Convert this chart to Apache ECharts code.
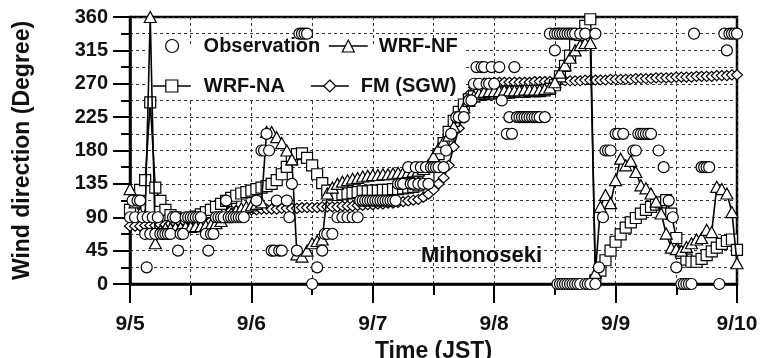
<!DOCTYPE html>
<html>
<head>
<meta charset="utf-8">
<script src="https://cdn.jsdelivr.net/npm/echarts/dist/echarts.min.js"></script>
<style>
  html, body { margin: 0; padding: 0; background: #fff; }
  #chart { width: 762px; height: 358px; }
</style>
</head>
<body>
<div id="chart"></div>
<script>
// hours since 9/5 00 JST, hourly model output
const hours = Array.from({ length: 121 }, (_, i) => i);
const dayLabels = ['9/5', '9/6', '9/7', '9/8', '9/9', '9/10'];

// WRF-NF (triangles)
const wrfNf = [
  128, 110, 95, 92, 360, 55, 72, 75, 75, 76, 76, 77, 77, 78, 78, 79, 80, 82, 85, 90, 95, 99, 102, 104,
  106, 108, 110, 205, 205, 198, 190, 180, 168, 40, 37, 45, 55, 58, 60, 122, 130, 135, 138, 140, 142, 143, 145, 146,
  147, 147, 148, 148, 149, 150, 150, 151, 152, 153, 155, 160, 172, 183, 192, 200, 212, 225, 238, 247, 253, 257, 259, 260,
  260, 260, 261, 261, 261, 261, 262, 262, 262, 262, 263, 265, 272, 285, 295, 305, 315, 322, 325, 325, 15, 104, 120, 109,
  140, 169, 160, 166, 151, 133, 129, 122, 111, 95, 68, 49, 47, 45, 50, 55, 60, 62, 73, 70, 131, 128, 122, 97,
  28
];

// WRF-NA (squares)
const wrfNa = [
  100, 118, 127, 140, 245, 130, 112, 100, 93, 90, 88, 88, 89, 91, 94, 97, 100, 104, 108, 112, 116, 119, 122, 124,
  126, 128, 130, 132, 135, 140, 148, 158, 168, 175, 176, 170, 160, 148, 136, 126, 121, 120, 121, 122, 123, 124, 125, 125,
  126, 126, 127, 127, 128, 128, 129, 130, 131, 133, 137, 145, 160, 175, 190, 205, 220, 232, 242, 249, 253, 255, 256, 257,
  257, 258, 258, 258, 259, 259, 259, 260, 260, 260, 261, 263, 268, 280, 294, 308, 322, 336, 348, 357, 5, 18, 32, 45,
  57, 67, 76, 83, 89, 95, 100, 104, 107, 110, 113, 95, 62, 42, 33, 30, 30, 34, 39, 44, 49, 54, 58, 60,
  46
];

// FM (SGW) (diamonds)
const fmSgw = [
  78, 78, 78, 79, 79, 79, 80, 80, 81, 82, 83, 84, 86, 88, 90, 92, 94, 96, 97, 98, 99, 99, 100, 100,
  100, 100, 101, 101, 101, 101, 102, 102, 102, 102, 103, 103, 103, 103, 104, 104, 104, 104, 105, 105, 105, 106, 106, 107,
  107, 108, 108, 109, 109, 110, 111, 112, 113, 114, 117, 121, 127, 135, 143, 160, 185, 210, 235, 255, 265, 270, 271, 271,
  272, 272, 272, 272, 272, 272, 272, 272, 273, 273, 273, 273, 273, 274, 274, 274, 274, 274, 275, 275, 275, 275, 275, 276,
  276, 276, 276, 276, 277, 277, 277, 277, 278, 278, 278, 278, 279, 279, 279, 279, 280, 280, 280, 280, 281, 281, 281, 282,
  282
];

// Observation [hour, degree]
const observation = [
  [0, 90], [0.5, 112.5], [1, 90], [1.5, 112.5], [2, 112.5], [2.5, 90], [3, 67.5], [3.3, 22.5], [3.5, 90], [4, 67.5],
  [4.5, 90], [5, 67.5], [5.5, 90], [6, 67.5], [6.5, 67.5], [7, 67.5], [7.5, 67.5], [8, 67.5], [8.5, 90], [9, 90],
  [9.5, 45], [10, 67.5], [10.5, 67.5], [11, 90], [11.5, 90], [12, 90], [12.5, 90], [13, 90], [13.5, 90], [14, 90],
  [15, 67.5], [15.5, 45], [16, 67.5], [16.5, 67.5], [17, 90], [17.5, 90], [18, 90], [18.5, 90], [19, 112.5], [19.5, 90],
  [20, 90], [20.5, 90], [21, 90], [21.5, 90], [22, 90], [22.5, 90], [25, 112.5], [26, 180], [26.5, 180], [27, 202.5],
  [27.5, 180], [28, 45], [28.5, 45], [29, 112.5], [29.5, 45], [30, 45], [31, 112.5], [31.5, 90], [32, 135], [33, 45],
  [33.5, 337.5], [34, 337.5], [34.5, 337.5], [35, 337.5], [36, 0], [37, 22.5], [38, 45], [38.5, 67.5], [39, 67.5], [40, 67.5],
  [41, 90], [42, 90], [43, 90], [44, 90], [45, 90], [45.5, 112.5], [46, 112.5], [46.5, 112.5], [47, 112.5], [47.5, 112.5],
  [48, 112.5], [48.5, 112.5], [49, 112.5], [49.5, 112.5], [50, 112.5], [50.5, 112.5], [51, 112.5], [51.5, 112.5], [52, 112.5], [52.5, 112.5],
  [53, 135], [53.5, 135], [54, 135], [55, 157.5], [55.5, 135], [56, 135], [56.5, 157.5], [57, 135], [57.5, 157.5], [58, 135],
  [58.5, 157.5], [59, 135], [59.5, 157.5], [60, 157.5], [60.5, 157.5], [61, 157.5], [62, 157.5], [62.5, 180], [63.5, 202.5], [64.5, 225],
  [65, 225], [66, 225], [67, 247.5], [67.5, 247.5], [68, 270], [68.5, 292.5], [69, 270], [69.5, 292.5], [70, 292.5], [70.5, 270],
  [71, 270], [71.5, 292.5], [72, 270], [73, 292.5], [73.5, 247.5], [74.5, 202.5], [75, 225], [75.5, 202.5], [76, 292.5], [76.5, 225],
  [77, 225], [77.5, 225], [78, 225], [78.5, 225], [79, 225], [79.5, 225], [80, 225], [80.5, 225], [81, 225], [82, 225],
  [83, 337.5], [84, 315], [84, 337.5], [84.5, 337.5], [85, 337.5], [85.5, 337.5], [86, 337.5], [86.5, 337.5], [87, 337.5], [87.5, 337.5],
  [88, 337.5], [89, 337.5], [90, 337.5], [92, 337.5],
  [84.5, 0], [85, 0], [85.5, 0], [86, 0], [86.5, 0], [87, 0], [87.5, 0], [88, 0], [88.5, 0], [89, 0], [90, 0], [90.5, 0], [91, 0], [92, 0],
  [92.7, 22.5], [93.5, 90], [94, 180], [94.5, 180], [95, 180], [96, 202.5], [96.5, 202.5], [97.5, 202.5], [99.5, 180], [100, 180],
  [100.5, 202.5], [101, 202.5], [101.5, 202.5], [102, 202.5], [102.5, 202.5], [103, 202.5], [104.5, 180], [105.5, 157.5], [106.5, 112.5], [107.3, 90],
  [108, 22.5], [109, 0], [109.5, 0], [110, 0], [110.5, 0], [111, 0], [111.5, 337.5], [113, 157.5], [113.5, 157.5], [114, 157.5],
  [114.5, 157.5], [116.5, 0], [117.5, 337.5], [118, 315], [118.5, 337.5], [119, 337.5], [119.5, 337.5], [120, 337.5]
];

const pairs = arr => arr.map((v, i) => [hours[i], v]);

const family = 'Liberation Sans, Arial, sans-serif';
const font = { fontFamily: family, fontWeight: 'bold', fontSize: 20, color: '#111' };
const nameFont = { ...font, fontSize: 23 };
const sym = { color: '#fff', borderColor: '#000', borderWidth: 1.2, opacity: 1 };
const line = { color: '#000', width: 1.6, opacity: 1 };
const dash = { lineStyle: { color: '#333', width: 1, type: [3, 3] } };
const tickStyle = { color: '#000', width: 2 };

const legendBase = {
  orient: 'horizontal', padding: 0, itemHeight: 15, itemWidth: 38, selectedMode: false,
  itemStyle: { color: '#fff', borderColor: '#000', borderWidth: 1.2, opacity: 1 },
  lineStyle: { color: '#000', width: 1.6, opacity: 1 }
};

let myChart = echarts.init(document.getElementById('chart'), null, { renderer: 'canvas' });

let option = {
  animation: false,
  backgroundColor: '#fff',
  grid: {
    left: 130, right: 25, top: 17, bottom: 74,
    show: true, borderColor: '#000', borderWidth: 2.5, backgroundColor: 'transparent',
    containLabel: false, outerBoundsMode: 'none'
  },
  xAxis: {
    type: 'value', min: 0, max: 120, interval: 24,
    name: 'Time (JST)', nameLocation: 'middle', nameGap: 44, nameTextStyle: nameFont,
    axisLine: { show: true, onZero: false, lineStyle: { color: '#000', width: 2.5 } },
    axisTick: { show: true, inside: false, length: 19, lineStyle: tickStyle },
    minorTick: { show: true, splitNumber: 2, length: 11, lineStyle: tickStyle },
    splitLine: { show: true, ...dash },
    minorSplitLine: { show: true, ...dash },
    axisLabel: { ...font, fontSize: 21, margin: 30, formatter: v => dayLabels[v / 24] }
  },
  yAxis: {
    type: 'value', min: 0, max: 360, interval: 45,
    name: 'Wind direction (Degree)', nameLocation: 'middle', nameGap: 96, nameRotate: 90, nameTextStyle: nameFont,
    axisLine: { show: true, onZero: false, lineStyle: { color: '#000', width: 2.5 } },
    axisTick: { show: true, inside: false, length: 17, lineStyle: tickStyle },
    minorTick: { show: true, splitNumber: 2, length: 9, lineStyle: tickStyle },
    splitLine: { show: true, ...dash },
    minorSplitLine: { show: true, ...dash },
    axisLabel: { ...font, margin: 22 }
  },
  legend: [
    { ...legendBase, data: [{ name: 'Observation', icon: 'circle' }], left: 165, top: 36, itemWidth: 13, itemHeight: 13,
      textStyle: { ...font, padding: [0, 0, 0, 20] } },
    { ...legendBase, data: ['WRF-NF'], left: 328, top: 36, itemWidth: 39, textStyle: { ...font, padding: [0, 0, 0, 6] } },
    { ...legendBase, data: ['WRF-NA'], left: 152, top: 76, textStyle: { ...font, padding: [0, 0, 0, 8] } },
    { ...legendBase, data: ['FM (SGW)'], left: 310, top: 76, textStyle: { ...font, padding: [0, 0, 0, 7] } }
  ],
  graphic: [
    // white box behind the legend, hides the grid there
    { type: 'rect', z: 1, shape: { x: 147, y: 47, width: 318, height: 53 },
      style: { fill: '#fff', stroke: null } },
    { type: 'text', left: 421, top: 245, z: 100,
      style: { text: 'Mihonoseki', font: 'bold 22px "Liberation Sans", Arial, sans-serif', fill: '#111' } }
  ],
  series: [
    { name: 'FM (SGW)', type: 'line', data: pairs(fmSgw), symbol: 'diamond', symbolSize: [11, 10],
      showAllSymbol: true, itemStyle: sym, lineStyle: line, z: 2 },
    { name: 'WRF-NA', type: 'line', data: pairs(wrfNa), symbol: 'rect', symbolSize: 11,
      showAllSymbol: true, itemStyle: sym, lineStyle: line, z: 3 },
    { name: 'WRF-NF', type: 'line', data: pairs(wrfNf), symbol: 'triangle', symbolSize: [12, 11],
      showAllSymbol: true, itemStyle: sym, lineStyle: line, z: 4 },
    { name: 'Observation', type: 'scatter', data: observation, symbol: 'circle', symbolSize: 11,
      itemStyle: sym, z: 5 }
  ]
};

myChart.setOption(option);
</script>
</body>
</html>
